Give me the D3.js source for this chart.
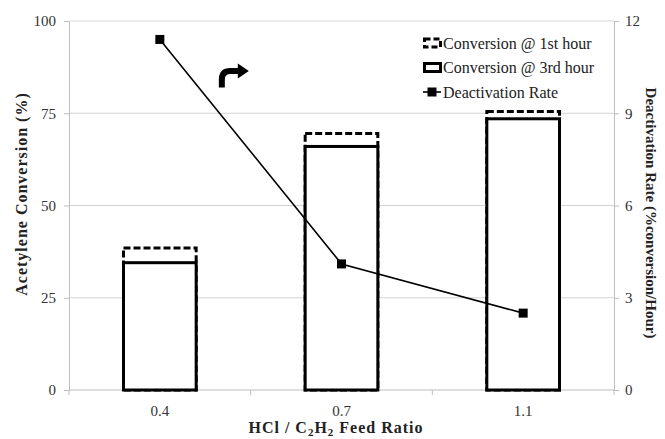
<!DOCTYPE html>
<html>
<head>
<meta charset="utf-8">
<script src="https://cdn.jsdelivr.net/npm/d3@7"></script>
<style>
  body { margin: 0; background: #fff; }
  svg, svg text { font-family: "Times New Roman", "Liberation Serif", "DejaVu Serif", serif; }
</style>
</head>
<body>
<svg id="chart" width="665" height="439"></svg>
<script>
// data
const ratios = ['0.4', '0.7', '1.1'];
const conv1st = [38.5, 69.5, 75.5];
const conv3rd = [34.5, 66.0, 73.5];
const deactRate = [11.4, 4.1, 2.5];
const leftTicks = [0, 25, 50, 75, 100];
const rightTicks = [0, 3, 6, 9, 12];

const FONT = '"Times New Roman", "Liberation Serif", "DejaVu Serif", serif';
const W = 665, H = 439;
const m = { t: 21, r: 51, b: 49, l: 69 };
const svg = d3.select('#chart');

const x = d3.scaleBand().domain(ratios).range([m.l, W - m.r]).padding(0);
const y = d3.scaleLinear().domain([0, 100]).range([H - m.b, m.t]);
const y2 = d3.scaleLinear().domain([0, 12]).range([H - m.b, m.t]);
const barW = x.bandwidth() * 0.4;
const cx = c => x(c) + x.bandwidth() / 2;

// gridlines
svg.append('g').selectAll('line').data(leftTicks.filter(d => d > 0)).join('line')
  .attr('x1', m.l).attr('x2', W - m.r)
  .attr('y1', d => y(d)).attr('y2', d => y(d))
  .attr('stroke', '#d4d4d4').attr('stroke-width', 1);

// left axis
const gl = svg.append('g').attr('transform', `translate(${m.l},0)`)
  .call(d3.axisLeft(y).tickValues(leftTicks).tickSize(5).tickSizeOuter(0));
// right axis
const gr = svg.append('g').attr('transform', `translate(${W - m.r},0)`)
  .call(d3.axisRight(y2).tickValues(rightTicks).tickSize(5).tickSizeOuter(0));
[gl, gr].forEach(g => {
  g.attr('font-family', FONT);
  g.select('.domain').attr('stroke', '#bdbdbd');
  g.selectAll('.tick line').attr('stroke', '#bdbdbd');
  g.selectAll('.tick text').attr('font-family', FONT)
    .attr('font-size', 15).attr('fill', '#333');
});
gl.selectAll('.tick text').attr('x', -13);
gr.selectAll('.tick text').attr('x', 11);

// bottom axis: line, boundary ticks, centred labels
const gb = svg.append('g');
gb.append('line').attr('x1', m.l).attr('x2', W - m.r)
  .attr('y1', y(0)).attr('y2', y(0)).attr('stroke', '#bdbdbd');
const edges = ratios.map(c => x(c)).concat([x(ratios[ratios.length - 1]) + x.bandwidth()]);
gb.selectAll('line.tk').data(edges).join('line').attr('class', 'tk')
  .attr('x1', d => d).attr('x2', d => d)
  .attr('y1', y(0)).attr('y2', y(0) + 5).attr('stroke', '#bdbdbd');
gb.selectAll('text').data(ratios).join('text')
  .attr('x', d => cx(d)).attr('y', y(0) + 26)
  .attr('text-anchor', 'middle').attr('font-size', 15).attr('fill', '#333')
  .attr('font-family', FONT)
  .text(d => d);

// bars: 1st hour (dashed) behind, 3rd hour (solid) in front
svg.append('g').selectAll('rect').data(ratios).join('rect')
  .attr('x', d => cx(d) - barW / 2).attr('width', barW)
  .attr('y', (d, i) => y(conv1st[i])).attr('height', (d, i) => y(0) - y(conv1st[i]))
  .attr('fill', '#fff').attr('stroke', '#000').attr('stroke-width', 3)
  .attr('stroke-dasharray', '7,3');
svg.append('g').selectAll('rect').data(ratios).join('rect')
  .attr('x', d => cx(d) - barW / 2).attr('width', barW)
  .attr('y', (d, i) => y(conv3rd[i])).attr('height', (d, i) => y(0) - y(conv3rd[i]))
  .attr('fill', '#fff').attr('stroke', '#000').attr('stroke-width', 3);

// deactivation rate line + markers
const line = d3.line().x((d, i) => cx(ratios[i])).y(d => y2(d));
svg.append('path').datum(deactRate)
  .attr('d', line).attr('fill', 'none').attr('stroke', '#000').attr('stroke-width', 1.6);
svg.append('g').selectAll('rect').data(deactRate).join('rect')
  .attr('x', (d, i) => cx(ratios[i]) - 4.5).attr('y', d => y2(d) - 4.5)
  .attr('width', 9).attr('height', 9).attr('fill', '#000');

// turn arrow annotation
const ax = cx(ratios[0]) + 62, ay = y(82);
const arrow = svg.append('g').attr('transform', `translate(${ax},${ay})`);
arrow.append('path').attr('d', 'M0,0 L0,-8 Q0,-16.5 8.5,-16.5 L17,-16.5')
  .attr('fill', 'none').attr('stroke', '#000').attr('stroke-width', 6);
arrow.append('path').attr('d', 'M16,-24 L27,-16.5 L16,-9 Z').attr('fill', '#000');

// axis titles
svg.append('text')
  .attr('transform', `translate(27,194) rotate(-90)`)
  .attr('text-anchor', 'middle').attr('font-size', 16).attr('font-weight', 'bold').attr('fill', '#222')
  .attr('letter-spacing', 1).attr('font-family', FONT)
  .text('Acetylene Conversion (%)');
svg.append('text')
  .attr('transform', `translate(646,213) rotate(90)`)
  .attr('text-anchor', 'middle').attr('font-size', 15).attr('font-weight', 'bold').attr('fill', '#222')
  .attr('font-family', FONT)
  .text('Deactivation Rate (%conversion/Hour)');
const xt = svg.append('text')
  .attr('x', 336).attr('y', 433)
  .attr('text-anchor', 'middle').attr('font-size', 16).attr('font-weight', 'bold').attr('fill', '#222')
  .attr('letter-spacing', 1).attr('font-family', FONT);
xt.append('tspan').text('HCl / C');
xt.append('tspan').attr('font-size', 11).attr('dy', 2.5).text('2');
xt.append('tspan').attr('dy', -2.5).text('H');
xt.append('tspan').attr('font-size', 11).attr('dy', 2.5).text('2');
xt.append('tspan').attr('dy', -2.5).text(' Feed Ratio');

// legend
const legendItems = ['Conversion @ 1st hour', 'Conversion @ 3rd hour', 'Deactivation Rate'];
const lg = svg.append('g').attr('transform', 'translate(423,43)');
const rows = lg.selectAll('g').data(legendItems).join('g')
  .attr('transform', (d, i) => `translate(0,${i * 24.5})`);
rows.append('text').attr('x', 20).attr('y', 5.5).attr('font-size', 16).attr('fill', '#222')
  .attr('font-family', FONT).text(d => d);
rows.filter((d, i) => i < 2).append('rect')
  .attr('x', 1.5).attr('y', -4).attr('width', 16).attr('height', 8)
  .attr('fill', '#fff').attr('stroke', '#000').attr('stroke-width', 3)
  .attr('stroke-dasharray', (d, i) => i === 0 ? '6,3' : null);
rows.filter((d, i) => i === 2).append('line')
  .attr('x1', 0).attr('x2', 18).attr('y1', 0).attr('y2', 0)
  .attr('stroke', '#000').attr('stroke-width', 1.6);
rows.filter((d, i) => i === 2).append('rect')
  .attr('x', 4.5).attr('y', -4.5).attr('width', 9).attr('height', 9).attr('fill', '#000');
</script>
</body>
</html>
